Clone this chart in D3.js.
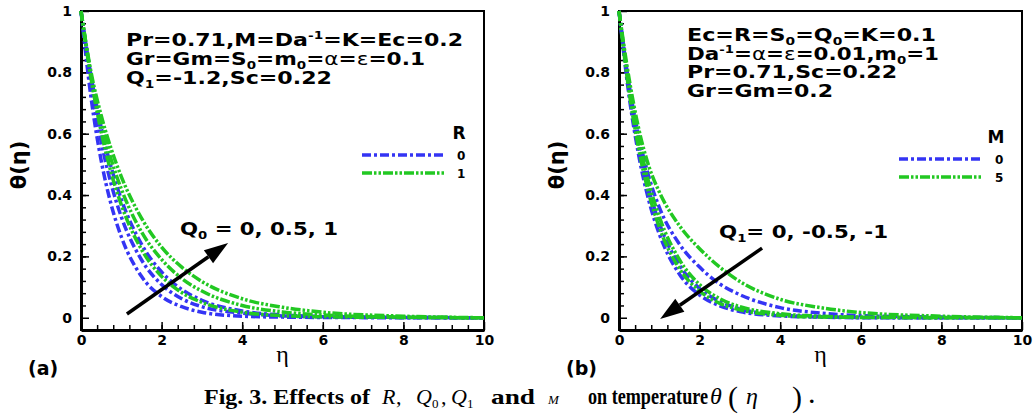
<!DOCTYPE html>
<html>
<head>
<meta charset="utf-8">
<script src="https://cdn.jsdelivr.net/npm/d3@7"></script>
<style>
  body { margin: 0; background: #fff; }
  .tickLabel { font-family: "DejaVu Sans", sans-serif; font-weight: bold; font-size: 14px; }
  .note { font-family: "DejaVu Sans", sans-serif; font-weight: bold; font-size: 18px; }
  .legendTitle { font-family: "DejaVu Sans", sans-serif; font-weight: bold; font-size: 17px; }
  .legendLabel { font-family: "DejaVu Sans", sans-serif; font-weight: bold; font-size: 12px; }
  .yLabel { font-family: "DejaVu Sans", sans-serif; font-weight: bold; font-size: 21px; }
  .xLabel { font-family: "Liberation Serif", serif; font-size: 24px; }
  .panelLabel { font-family: "DejaVu Sans", sans-serif; font-weight: bold; font-size: 19px; }
  .captionIt { font-family: "Liberation Serif", serif; }
</style>
</head>
<body>
<div id="chart"></div>
<script>
//Data
const etaPoints = [0, 0.25, 0.5, 0.75, 1, 1.5, 2, 2.5, 3, 4, 5, 6, 8, 10];

// (a) effect of R and Q0
const thetaR0_Q0_0   = [1, 0.717, 0.513, 0.368, 0.264, 0.135, 0.069, 0.036, 0.018, 0.005, 0.002, 0.001, 0, 0];
const thetaR0_Q0_05  = [1, 0.757, 0.574, 0.435, 0.329, 0.189, 0.108, 0.062, 0.036, 0.015, 0.006, 0.003, 0.001, 0];
const thetaR0_Q0_1   = [1, 0.788, 0.621, 0.490, 0.386, 0.240, 0.149, 0.092, 0.057, 0.022, 0.009, 0.004, 0.001, 0];
const thetaR1_Q0_0   = [1, 0.779, 0.607, 0.472, 0.368, 0.223, 0.135, 0.082, 0.050, 0.018, 0.007, 0.003, 0.001, 0];
const thetaR1_Q0_05  = [1, 0.790, 0.635, 0.515, 0.420, 0.280, 0.190, 0.128, 0.087, 0.040, 0.019, 0.009, 0.002, 0];
const thetaR1_Q0_1   = [1, 0.800, 0.660, 0.550, 0.460, 0.325, 0.230, 0.165, 0.118, 0.062, 0.034, 0.018, 0.005, 0];

// (b) effect of M and Q1
const thetaM0_Q1_0   = [1, 0.760, 0.585, 0.455, 0.360, 0.240, 0.165, 0.110, 0.075, 0.033, 0.015, 0.007, 0.002, 0];
const thetaM0_Q1_m05 = [1, 0.745, 0.555, 0.414, 0.308, 0.171, 0.095, 0.053, 0.029, 0.009, 0.003, 0.001, 0, 0];
const thetaM0_Q1_m1  = [1, 0.723, 0.522, 0.377, 0.273, 0.142, 0.074, 0.039, 0.020, 0.006, 0.002, 0, 0, 0];
const thetaM5_Q1_0   = [1, 0.780, 0.610, 0.490, 0.410, 0.300, 0.225, 0.165, 0.118, 0.060, 0.033, 0.017, 0.005, 0];
const thetaM5_Q1_m05 = [1, 0.757, 0.574, 0.435, 0.329, 0.189, 0.108, 0.062, 0.036, 0.013, 0.005, 0.002, 0.001, 0];
const thetaM5_Q1_m1  = [1, 0.737, 0.543, 0.400, 0.295, 0.160, 0.087, 0.047, 0.026, 0.008, 0.002, 0.001, 0, 0];

const xTicks = [0, 2, 4, 6, 8, 10];
const yTicks = [0, 0.2, 0.4, 0.6, 0.8, 1];
const yTickLabels = ["0", "0.2", "0.4", "0.6", "0.8", "1"];
const legendA = ["0", "1"];
const legendB = ["0", "5"];

const blue = "#3434f4";
const green = "#22c822";
const blueDash = "9,3,3,3";
const greenDash = "10,2,2.5,2,2.5,2";

let svg = d3.select("#chart").append("svg")
  .attr("width", 1035)
  .attr("height", 419);

// text with sub/superscripts, stretched to the measured width
function richText(g, x, y, parts, cls, width) {
  let t = g.append("text").attr("class", cls).attr("x", x).attr("y", y);
  let shift = 0;
  parts.forEach(function (p) {
    let want = p.sub ? 4 : (p.sup ? -7 : 0);
    let ts = t.append("tspan").attr("dy", want - shift).text(p.t);
    if (p.sub || p.sup) ts.style("font-size", "62%");
    if (p.greek) ts.style("font-weight", "normal");
    shift = want;
  });
  if (width) t.attr("textLength", width).attr("lengthAdjust", "spacingAndGlyphs");
  return t;
}

function drawArrow(g, x1, y1, x2, y2) {
  let ang = Math.atan2(y2 - y1, x2 - x1);
  let len = 24, hw = 8;
  let bx = x2 - len * Math.cos(ang), by = y2 - len * Math.sin(ang);
  g.append("line")
    .attr("x1", x1).attr("y1", y1)
    .attr("x2", bx).attr("y2", by)
    .attr("stroke", "black").attr("stroke-width", 3.5);
  g.append("path")
    .attr("d", "M" + x2 + "," + y2 +
      "L" + (bx + hw * Math.sin(ang)) + "," + (by - hw * Math.cos(ang)) +
      "L" + (bx - hw * Math.sin(ang)) + "," + (by + hw * Math.cos(ang)) + "Z")
    .attr("fill", "black");
}

function createPanel(opt) {
  let xScale = d3.scaleLinear().domain([0, 10]).range([opt.left, opt.left + 403]);
  let yScale = d3.scaleLinear().domain([-0.04, 1]).range([330, 11]);
  let g = svg.append("g");

  // frame
  g.append("rect")
    .attr("x", xScale(0)).attr("y", yScale(1))
    .attr("width", xScale(10) - xScale(0))
    .attr("height", yScale(-0.04) - yScale(1))
    .attr("fill", "none").attr("stroke", "black").attr("stroke-width", 2);

  // minor ticks
  let xMinor = d3.range(0.4, 10, 0.4);
  let yMinor = d3.range(0.04, 1, 0.04);
  g.append("g")
    .attr("transform", "translate(0," + yScale(-0.04) + ")")
    .call(d3.axisBottom(xScale).tickValues(xMinor).tickSize(-5).tickFormat(""))
    .call(a => a.select(".domain").remove())
    .selectAll("line").attr("stroke-width", 1.5);
  g.append("g")
    .attr("transform", "translate(" + xScale(0) + ",0)")
    .call(d3.axisLeft(yScale).tickValues(yMinor).tickSize(-5).tickFormat(""))
    .call(a => a.select(".domain").remove())
    .selectAll("line").attr("stroke-width", 1.5);

  // major axes
  let xAxis = g.append("g")
    .attr("transform", "translate(0," + yScale(-0.04) + ")")
    .call(d3.axisBottom(xScale).tickValues(xTicks).tickSize(-8).tickSizeOuter(0).tickPadding(5));
  let yAxis = g.append("g")
    .attr("transform", "translate(" + xScale(0) + ",0)")
    .call(d3.axisLeft(yScale).tickValues(yTicks).tickSize(-8).tickSizeOuter(0).tickPadding(9)
      .tickFormat((d, i) => yTickLabels[i]));
  [xAxis, yAxis].forEach(function (a) {
    a.select(".domain").attr("stroke-width", 3);
    a.selectAll(".tick line").attr("stroke-width", 1.5);
    a.selectAll(".tick text").attr("class", "tickLabel").attr("fill", "black");
  });

  // curves
  let line = d3.line()
    .x((d, i) => xScale(etaPoints[i]))
    .y(d => yScale(d))
    .curve(d3.curveMonotoneX);
  opt.curves.forEach(function (c) {
    g.append("path")
      .datum(c.values)
      .attr("d", line)
      .attr("fill", "none")
      .attr("stroke", c.color)
      .attr("stroke-width", 3.5)
      .attr("stroke-dasharray", c.dash);
  });

  // legend
  g.append("text").attr("class", "legendTitle")
    .attr("x", opt.legend.tx).attr("y", opt.legend.ty).attr("text-anchor", "middle")
    .text(opt.legend.title);
  opt.legend.labels.forEach(function (lab, i) {
    let ly = opt.legend.y0 + i * 18;
    g.append("line")
      .attr("x1", opt.legend.x1).attr("x2", opt.legend.x2)
      .attr("y1", ly).attr("y2", ly)
      .attr("stroke", i === 0 ? blue : green)
      .attr("stroke-width", 3.5)
      .attr("stroke-dasharray", i === 0 ? blueDash : greenDash);
    g.append("text").attr("class", "legendLabel")
      .attr("x", opt.legend.lx).attr("y", ly + 4.5)
      .text(lab);
  });

  // parameter block
  opt.notes.forEach(function (n) {
    richText(g, n.x, n.y, n.parts, "note", n.w);
  });

  // arrow with its label
  drawArrow(g, xScale(opt.arrow[0]), yScale(opt.arrow[1]), xScale(opt.arrow[2]), yScale(opt.arrow[3]));
  richText(g, opt.arrowText.x, opt.arrowText.y, opt.arrowText.parts, "note", opt.arrowText.w);

  // axis titles
  g.append("text").attr("class", "yLabel")
    .attr("transform", "translate(" + (opt.left - 55) + ",165) rotate(-90)")
    .attr("text-anchor", "middle")
    .text("\u03b8(\u03b7)");
  g.append("text").attr("class", "xLabel")
    .attr("x", xScale(5)).attr("y", 362).attr("text-anchor", "middle")
    .text("\u03b7");
  g.append("text").attr("class", "panelLabel")
    .attr("x", opt.left - 53).attr("y", 375)
    .text(opt.tag);
}

createPanel({
  left: 81,
  tag: "(a)",
  curves: [
    { values: thetaR0_Q0_0, color: blue, dash: blueDash },
    { values: thetaR0_Q0_05, color: blue, dash: blueDash },
    { values: thetaR0_Q0_1, color: blue, dash: blueDash },
    { values: thetaR1_Q0_0, color: green, dash: greenDash },
    { values: thetaR1_Q0_05, color: green, dash: greenDash },
    { values: thetaR1_Q0_1, color: green, dash: greenDash }
  ],
  legend: { title: "R", tx: 459, ty: 139, labels: legendA, x1: 362, x2: 444, y0: 155, lx: 457 },
  notes: [
    { x: 126, y: 46, w: 337, parts: [{ t: "Pr=0.71,M=Da" }, { t: "-1", sup: true }, { t: "=K=Ec=0.2" }] },
    { x: 126, y: 65, w: 299, parts: [{ t: "Gr=Gm=S" }, { t: "0", sub: true }, { t: "=m" }, { t: "0", sub: true },
      { t: "=" }, { t: "\u03b1", greek: true }, { t: "=" }, { t: "\u03b5", greek: true }, { t: "=0.1" }] },
    { x: 126, y: 84, w: 206, parts: [{ t: "Q" }, { t: "1", sub: true }, { t: "=-1.2,Sc=0.22" }] }
  ],
  arrow: [1.14, 0.012, 3.65, 0.244],
  arrowText: { x: 180, y: 235, w: 158, parts: [{ t: "Q" }, { t: "0", sub: true }, { t: " = 0, 0.5, 1" }] }
});

createPanel({
  left: 619,
  tag: "(b)",
  curves: [
    { values: thetaM0_Q1_0, color: blue, dash: blueDash },
    { values: thetaM0_Q1_m05, color: blue, dash: blueDash },
    { values: thetaM0_Q1_m1, color: blue, dash: blueDash },
    { values: thetaM5_Q1_0, color: green, dash: greenDash },
    { values: thetaM5_Q1_m05, color: green, dash: greenDash },
    { values: thetaM5_Q1_m1, color: green, dash: greenDash }
  ],
  legend: { title: "M", tx: 996, ty: 143, labels: legendB, x1: 899, x2: 983, y0: 159, lx: 995 },
  notes: [
    { x: 687, y: 41, w: 249, parts: [{ t: "Ec=R=S" }, { t: "0", sub: true }, { t: "=Q" }, { t: "0", sub: true }, { t: "=K=0.1" }] },
    { x: 687, y: 60, w: 252, parts: [{ t: "Da" }, { t: "-1", sup: true }, { t: "=" }, { t: "\u03b1", greek: true }, { t: "=" },
      { t: "\u03b5", greek: true }, { t: "=0.01,m" }, { t: "0", sub: true }, { t: "=1" }] },
    { x: 687, y: 78, w: 210, parts: [{ t: "Pr=0.71,Sc=0.22" }] },
    { x: 687, y: 97, w: 146, parts: [{ t: "Gr=Gm=0.2" }] }
  ],
  arrow: [3.55, 0.227, 1.02, -0.004],
  arrowText: { x: 719, y: 238, w: 169, parts: [{ t: "Q" }, { t: "1", sub: true }, { t: "= 0, -0.5, -1" }] }
});

// figure caption
let cap = svg.append("g");
function capText(x, y, s, size, italic, bold, w) {
  let t = cap.append("text")
    .attr("class", "captionIt")
    .attr("x", x).attr("y", y)
    .style("font-size", size + "px")
    .style("font-style", italic ? "italic" : "normal")
    .style("font-weight", bold ? "bold" : "normal")
    .text(s);
  if (w) t.attr("textLength", w).attr("lengthAdjust", "spacingAndGlyphs");
  return t;
}
capText(204, 404, "Fig. 3. Effects of", 22, false, true, 166);
capText(382, 404, "R", 22, true, false);
capText(396, 404, ",", 22, false, false);
capText(416, 404, "Q", 22, true, false);
capText(432, 408, "0", 13, false, false);
capText(441, 404, ",", 22, false, false);
capText(451, 404, "Q", 22, true, false);
capText(467, 408, "1", 13, false, false);
capText(491, 404, "and", 22, false, true, 44);
capText(548, 404, "M", 13, true, false);
capText(588, 404, "on temperature", 24, false, true, 120);
capText(710, 404, "\u03b8", 24, true, false);
capText(728, 407, "(", 30, false, false);
capText(746, 404, "\u03b7", 24, true, false);
capText(792, 407, ")", 30, false, false);
capText(809, 403, ".", 22, false, true);
</script>
</body>
</html>
